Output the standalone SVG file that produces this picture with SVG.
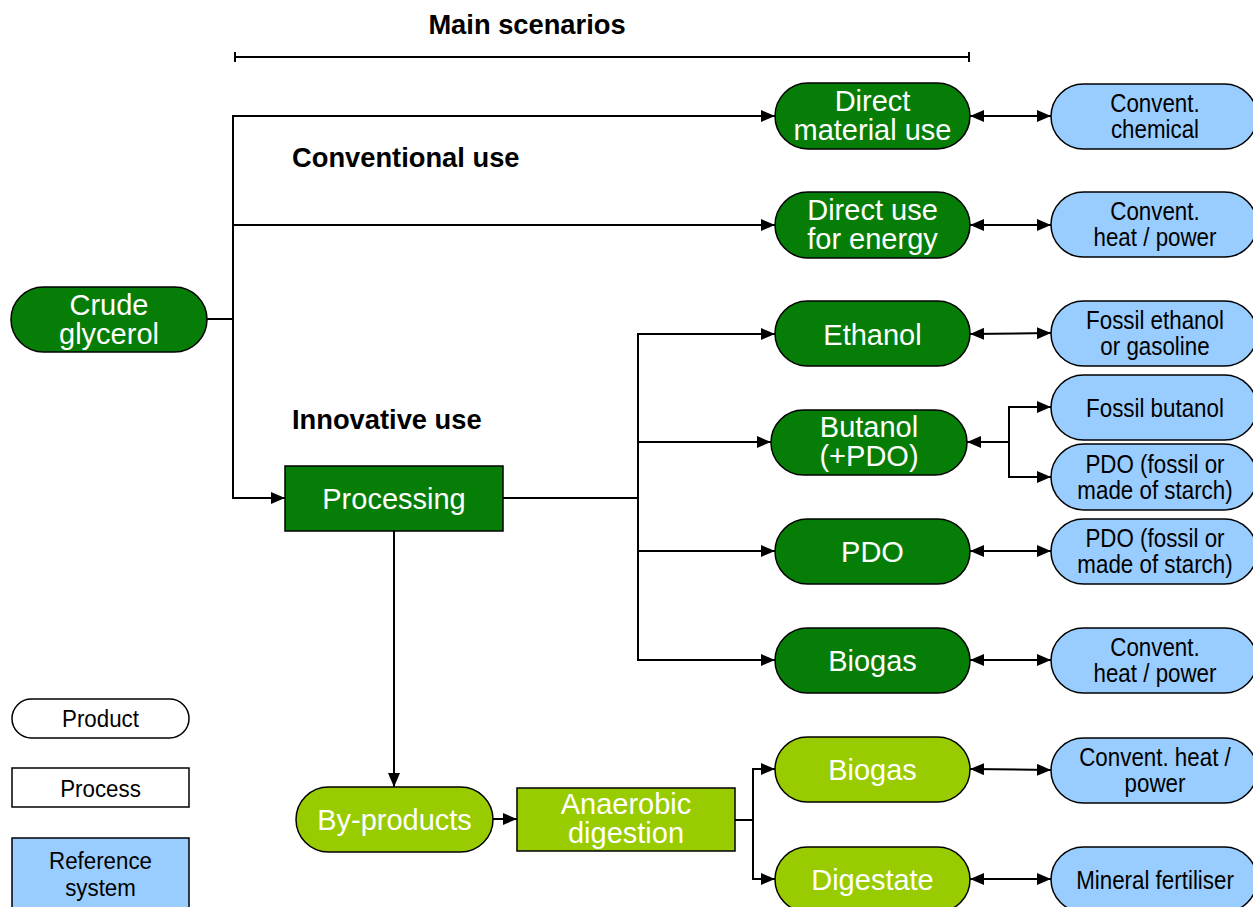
<svg xmlns="http://www.w3.org/2000/svg" width="1253" height="907" viewBox="0 0 1253 907">
  <defs>
    <marker id="arrow" viewBox="0 0 14 12" refX="14" refY="6" markerWidth="14" markerHeight="12" markerUnits="userSpaceOnUse" orient="auto-start-reverse">
      <path d="M0,0 L14,6 L0,12 Z" fill="#000"/>
    </marker>
  </defs>
  <style>
    .prod-dark { fill: #067d06; stroke: #000; stroke-width: 1.5; }
    .prod-light { fill: #99cc00; stroke: #000; stroke-width: 1.5; }
    .ref { fill: #99ccff; stroke: #000; stroke-width: 1.5; }
    .legend { fill: #fff; stroke: #000; stroke-width: 1.5; }
    .wt { font-family: "Liberation Sans", Arial, sans-serif; font-size: 29px; fill: #fff; text-anchor: middle; }
    .bt { font-family: "Liberation Sans", Arial, sans-serif; font-size: 26px; fill: #000; text-anchor: middle; }
    .lt { font-family: "Liberation Sans", Arial, sans-serif; font-size: 24px; fill: #000; text-anchor: middle; }
    .head { font-family: "Liberation Sans", Arial, sans-serif; font-size: 27.3px; font-weight: bold; fill: #000; }
    .conn line { stroke: #000; stroke-width: 2; fill: none; }
    .arr { marker-end: url(#arrow); }
    .dbl { marker-start: url(#arrow); marker-end: url(#arrow); }
  </style>

  <rect width="1253" height="907" fill="#fff"/>

  <!-- headings -->
  <text class="head" x="527" y="34" text-anchor="middle">Main scenarios</text>
  <text class="head" x="292" y="167">Conventional use</text>
  <text class="head" x="292" y="429">Innovative use</text>

  <!-- connectors -->
  <g id="connectors" class="conn">
    <line x1="235" y1="57" x2="969" y2="57"/>
    <line x1="235" y1="52" x2="235" y2="62"/>
    <line x1="969" y1="52" x2="969" y2="62"/>

    <line x1="207" y1="319" x2="234" y2="319"/>
    <line x1="233" y1="115" x2="233" y2="499"/>
    <line class="arr" x1="232" y1="116" x2="775" y2="116"/>
    <line class="arr" x1="232" y1="225" x2="775" y2="225"/>
    <line class="arr" x1="232" y1="498" x2="285" y2="498"/>

    <line x1="503" y1="498" x2="639" y2="498"/>
    <line x1="638" y1="333" x2="638" y2="661"/>
    <line class="arr" x1="637" y1="334" x2="775" y2="334"/>
    <line class="arr" x1="637" y1="442" x2="771" y2="442"/>
    <line class="arr" x1="637" y1="551" x2="775" y2="551"/>
    <line class="arr" x1="637" y1="660" x2="775" y2="660"/>

    <line class="dbl" x1="970" y1="116" x2="1051" y2="116"/>
    <line class="dbl" x1="970" y1="225" x2="1051" y2="225"/>
    <line class="dbl" x1="970" y1="334" x2="1051" y2="333"/>
    <line class="dbl" x1="970" y1="551" x2="1051" y2="551"/>
    <line class="dbl" x1="970" y1="660" x2="1051" y2="660"/>
    <line class="dbl" x1="970" y1="769" x2="1051" y2="770"/>
    <line class="dbl" x1="970" y1="879" x2="1051" y2="879"/>

    <line class="arr" x1="1010" y1="442" x2="967" y2="442"/>
    <line x1="1009" y1="406" x2="1009" y2="478"/>
    <line class="arr" x1="1008" y1="407" x2="1051" y2="407"/>
    <line class="arr" x1="1008" y1="477" x2="1051" y2="477"/>

    <line class="arr" x1="394" y1="531" x2="394" y2="787"/>
    <line class="arr" x1="493" y1="819" x2="517" y2="819"/>
    <line x1="735" y1="820" x2="754" y2="820"/>
    <line x1="753" y1="768" x2="753" y2="880"/>
    <line class="arr" x1="752" y1="769" x2="775" y2="769"/>
    <line class="arr" x1="752" y1="879" x2="775" y2="879"/>
  </g>

  <!-- source -->
  <g id="crude-glycerol">
    <rect class="prod-dark" x="11" y="287" width="196" height="65" rx="32.5"/>
    <text class="wt" x="109" y="315">Crude</text>
    <text class="wt" x="109" y="344">glycerol</text>
  </g>

  <!-- conventional use -->
  <g id="direct-material-use">
    <rect class="prod-dark" x="775" y="83" width="195" height="66" rx="33"/>
    <text class="wt" x="872.5" y="111">Direct</text>
    <text class="wt" x="872.5" y="140">material use</text>
  </g>
  <g id="direct-use-energy">
    <rect class="prod-dark" x="775" y="192" width="195" height="66" rx="33"/>
    <text class="wt" x="872.5" y="220">Direct use</text>
    <text class="wt" x="872.5" y="249">for energy</text>
  </g>

  <!-- innovative use -->
  <g id="processing">
    <rect class="prod-dark" x="285" y="466" width="218" height="65"/>
    <text class="wt" x="394" y="509">Processing</text>
  </g>
  <g id="ethanol">
    <rect class="prod-dark" x="775" y="301" width="195" height="65" rx="32.5"/>
    <text class="wt" x="872.5" y="345">Ethanol</text>
  </g>
  <g id="butanol">
    <rect class="prod-dark" x="771" y="410" width="196" height="65" rx="32.5"/>
    <text class="wt" x="869" y="437">Butanol</text>
    <text class="wt" x="869" y="466">(+PDO)</text>
  </g>
  <g id="pdo">
    <rect class="prod-dark" x="775" y="519" width="195" height="65" rx="32.5"/>
    <text class="wt" x="872.5" y="562">PDO</text>
  </g>
  <g id="biogas">
    <rect class="prod-dark" x="775" y="628" width="195" height="65" rx="32.5"/>
    <text class="wt" x="872.5" y="671">Biogas</text>
  </g>

  <!-- by-product route -->
  <g id="by-products">
    <rect class="prod-light" x="296" y="787" width="197" height="65" rx="32.5"/>
    <text class="wt" x="394.5" y="830">By-products</text>
  </g>
  <g id="anaerobic-digestion">
    <rect class="prod-light" x="517" y="788" width="218" height="63"/>
    <text class="wt" x="626" y="814">Anaerobic</text>
    <text class="wt" x="626" y="843">digestion</text>
  </g>
  <g id="biogas-ad">
    <rect class="prod-light" x="775" y="737" width="195" height="65" rx="32.5"/>
    <text class="wt" x="872.5" y="780">Biogas</text>
  </g>
  <g id="digestate">
    <rect class="prod-light" x="775" y="847" width="195" height="65" rx="32.5"/>
    <text class="wt" x="872.5" y="890">Digestate</text>
  </g>

  <!-- reference systems (condensed lettering via horizontal scale) -->
  <g id="ref-chemical">
    <rect class="ref" x="1051" y="84" width="206" height="65" rx="32.5"/>
    <text class="bt" transform="matrix(0.86 0 0 1 1155 0)" x="0" y="112">Convent.</text>
    <text class="bt" transform="matrix(0.86 0 0 1 1155 0)" x="0" y="138">chemical</text>
  </g>
  <g id="ref-heat-power-1">
    <rect class="ref" x="1051" y="192" width="206" height="65" rx="32.5"/>
    <text class="bt" transform="matrix(0.86 0 0 1 1155 0)" x="0" y="220">Convent.</text>
    <text class="bt" transform="matrix(0.86 0 0 1 1155 0)" x="0" y="246">heat / power</text>
  </g>
  <g id="ref-ethanol">
    <rect class="ref" x="1051" y="301" width="206" height="65" rx="32.5"/>
    <text class="bt" transform="matrix(0.86 0 0 1 1155 0)" x="0" y="329">Fossil ethanol</text>
    <text class="bt" transform="matrix(0.86 0 0 1 1155 0)" x="0" y="355">or gasoline</text>
  </g>
  <g id="ref-butanol">
    <rect class="ref" x="1051" y="375" width="206" height="65" rx="32.5"/>
    <text class="bt" transform="matrix(0.86 0 0 1 1155 0)" x="0" y="417">Fossil butanol</text>
  </g>
  <g id="ref-pdo-1">
    <rect class="ref" x="1051" y="444" width="206" height="66" rx="33"/>
    <text class="bt" transform="matrix(0.86 0 0 1 1155 0)" x="0" y="473">PDO (fossil or</text>
    <text class="bt" transform="matrix(0.86 0 0 1 1155 0)" x="0" y="499">made of starch)</text>
  </g>
  <g id="ref-pdo-2">
    <rect class="ref" x="1051" y="519" width="206" height="65" rx="32.5"/>
    <text class="bt" transform="matrix(0.86 0 0 1 1155 0)" x="0" y="547">PDO (fossil or</text>
    <text class="bt" transform="matrix(0.86 0 0 1 1155 0)" x="0" y="573">made of starch)</text>
  </g>
  <g id="ref-heat-power-2">
    <rect class="ref" x="1051" y="628" width="206" height="65" rx="32.5"/>
    <text class="bt" transform="matrix(0.86 0 0 1 1155 0)" x="0" y="656">Convent.</text>
    <text class="bt" transform="matrix(0.86 0 0 1 1155 0)" x="0" y="682">heat / power</text>
  </g>
  <g id="ref-heat-power-3">
    <rect class="ref" x="1051" y="738" width="206" height="65" rx="32.5"/>
    <text class="bt" transform="matrix(0.86 0 0 1 1155 0)" x="0" y="766">Convent. heat /</text>
    <text class="bt" transform="matrix(0.86 0 0 1 1155 0)" x="0" y="792">power</text>
  </g>
  <g id="ref-fertiliser">
    <rect class="ref" x="1051" y="847" width="206" height="65" rx="32.5"/>
    <text class="bt" transform="matrix(0.86 0 0 1 1155 0)" x="0" y="889">Mineral fertiliser</text>
  </g>

  <!-- legend -->
  <g id="legend-product">
    <rect class="legend" x="12" y="699" width="177" height="39" rx="19.5"/>
    <text class="lt" transform="matrix(0.93 0 0 1 100.5 0)" x="0" y="727">Product</text>
  </g>
  <g id="legend-process">
    <rect class="legend" x="12" y="768" width="177" height="39"/>
    <text class="lt" transform="matrix(0.93 0 0 1 100.5 0)" x="0" y="797">Process</text>
  </g>
  <g id="legend-reference">
    <rect class="ref" x="12" y="838" width="177" height="75"/>
    <text class="lt" transform="matrix(0.93 0 0 1 100.5 0)" x="0" y="869">Reference</text>
    <text class="lt" transform="matrix(0.93 0 0 1 100.5 0)" x="0" y="896">system</text>
  </g>
</svg>
